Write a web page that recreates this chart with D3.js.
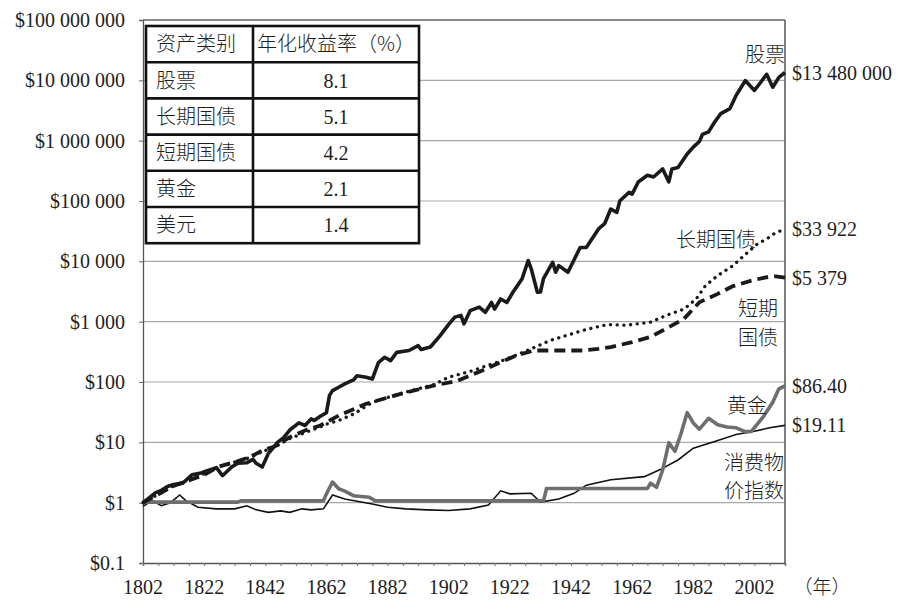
<!DOCTYPE html>
<html><head><meta charset="utf-8">
<script src="https://cdn.jsdelivr.net/npm/d3@7"></script>
<style>
html,body{margin:0;padding:0;background:#fff;}
text{font-family:"Liberation Serif","Noto Sans CJK SC",serif;fill:#1e1e1e;}
.cjk{font-family:"Noto Sans CJK SC","Liberation Serif",sans-serif;font-weight:300;}
</style></head>
<body>
<svg id="c" width="901" height="602"></svg>
<script>
// ---------- DATA ----------
const stocks = [[1802,1],[1804,1.2],[1806,1.45],[1808,1.6],[1810,1.85],[1812,2.0],[1815,2.1],[1818,2.9],[1821,3.1],[1823,3.4],[1826,3.8],[1828,2.8],[1831,3.9],[1833,4.5],[1836,4.6],[1838,5.2],[1839,4.5],[1841,3.9],[1843,6.5],[1846,10],[1848,12],[1850,16],[1853,21],[1855,19],[1857,24.5],[1858,23],[1860,27],[1862,31],[1863,60],[1864,72],[1866,82],[1868,93],[1871,110],[1872,127],[1875,120],[1877,112],[1879,210],[1881,257],[1883,226],[1885,310],[1889,333],[1892,400],[1893,345],[1896,380],[1899,570],[1902,900],[1904,1190],[1906,1270],[1907,920],[1909,1520],[1912,1740],[1914,1430],[1916,2080],[1917,1620],[1919,2380],[1921,2080],[1923,3070],[1926,5150],[1928,10300],[1929,7500],[1931,3070],[1932,3100],[1933,5150],[1936,9600],[1937,6600],[1938,8500],[1941,6600],[1945,17000],[1947,17000],[1951,34500],[1953,42000],[1955,73600],[1957,65000],[1958,101000],[1961,139000],[1962,130000],[1964,207000],[1967,267000],[1969,250000],[1972,340000],[1974,207000],[1975,340000],[1977,360000],[1980,600000],[1982,780000],[1984,970000],[1985,1270000],[1987,1400000],[1989,2040000],[1991,2800000],[1994,3400000],[1996,5600000],[1999,9900000],[2002,6800000],[2004,9200000],[2006,12600000],[2008,7700000],[2010,11200000],[2012,13480000]];
const longBonds = [[1802,1],[1812,1.9],[1822,3.0],[1827,4.0],[1832,4.7],[1837,5.6],[1841,7.0],[1845,8.3],[1850,11.5],[1855,14.5],[1860,18],[1862,20],[1866,23],[1871,29.6],[1877,46],[1886,64],[1897,90],[1902,120],[1910,155],[1913,176],[1921,240],[1929,355],[1935,485],[1941,600],[1946,720],[1954,900],[1960,870],[1968,980],[1973,1260],[1979,1620],[1983,2390],[1986,3970],[1990,5800],[1995,8500],[1998,11700],[2003,19500],[2006,23500],[2009,30000],[2012,33922]];
const shortBills = [[1802,1],[1812,1.9],[1822,2.9],[1827,4.0],[1832,4.7],[1837,5.7],[1841,7.3],[1845,8.5],[1850,12.2],[1855,15.7],[1860,19],[1866,27.7],[1875,43.5],[1886,63],[1897,87],[1905,105],[1913,155],[1924,275],[1930,333],[1946,333],[1951,355],[1955,380],[1962,457],[1968,560],[1973,760],[1979,1120],[1984,2100],[1990,2890],[1995,3880],[2001,4800],[2006,5450],[2009,5650],[2012,5379]];
const gold = [[1802,1.02],[1833,1.02],[1834,1.07],[1861,1.07],[1862,1.4],[1864,2.2],[1866,1.7],[1868,1.55],[1871,1.3],[1876,1.23],[1878,1.07],[1933,1.07],[1934,1.72],[1967,1.72],[1968,2.1],[1970,1.8],[1972,3.5],[1974,9.8],[1976,7.1],[1978,14],[1980,31],[1982,21],[1984,16.5],[1987,25],[1990,19.5],[1993,18],[1996,17.4],[1999,15],[2001,15.2],[2005,27],[2008,46],[2010,77],[2012,86.4]];
const cpi = [[1802,0.87],[1805,1.08],[1808,0.89],[1811,1.0],[1814,1.34],[1816,1.08],[1820,0.84],[1826,0.79],[1832,0.79],[1836,0.89],[1839,0.76],[1843,0.69],[1847,0.73],[1850,0.69],[1854,0.79],[1857,0.76],[1861,0.79],[1864,1.34],[1868,1.15],[1877,0.95],[1882,0.84],[1888,0.79],[1895,0.76],[1902,0.74],[1909,0.79],[1915,0.91],[1919,1.57],[1922,1.4],[1929,1.43],[1932,1.02],[1938,1.15],[1943,1.43],[1947,1.95],[1955,2.4],[1966,2.7],[1971,3.5],[1977,5.1],[1982,8.0],[1989,10.3],[1996,13.5],[2002,15.3],[2007,17.4],[2012,19.11]];

const yTickValues = [0.1,1,10,100,1000,10000,100000,1000000,10000000,100000000];
const yTickLabels = ["$0.1","$1","$10","$100","$1 000","$10 000","$100 000","$1 000 000","$10 000 000","$100 000 000"];
const xTickLabels = [1802,1822,1842,1862,1882,1902,1922,1942,1962,1982,2002];
const tableHeader = ["资产类别","年化收益率（%）"];
const tableAssets = ["股票","长期国债","短期国债","黄金","美元"];
const tableReturns = ["8.1","5.1","4.2","2.1","1.4"];
const endLabels = ["$13 480 000","$33 922","$5 379","$86.40","$19.11"];

// ---------- CHART ----------
const svg = d3.select("#c");
const L=143, R=785, T=20, B=563;
const x = d3.scaleLinear().domain([1802,2012]).range([L,R]);
const y = d3.scaleLog().domain([0.1,1e8]).range([B,T]);

// gridlines
svg.append("g").selectAll("line").data(yTickValues.filter(v=>v>0.1&&v<1e8)).join("line")
  .attr("x1",L).attr("x2",R).attr("y1",d=>y(d)).attr("y2",d=>y(d))
  .attr("stroke","#a8a8a8").attr("stroke-width",1.2);

// y axis
const yAxis = d3.axisLeft(y).tickValues(yTickValues).tickSize(4).tickPadding(14)
  .tickFormat((d,i)=>yTickLabels[i]);
const gy = svg.append("g").attr("transform",`translate(${L},0)`).call(yAxis);
gy.select(".domain").attr("stroke","#555").attr("stroke-width",1.3);
gy.selectAll(".tick line").attr("stroke","#666");
gy.selectAll("text").style("font-family","Liberation Serif").style("font-size","20px").attr("fill","#1e1e1e");

// x axis
const minor = d3.range(1802,2013,5);
const xAxis = d3.axisBottom(x).tickValues(minor).tickSize(3).tickFormat("");
const gx = svg.append("g").attr("transform",`translate(0,${B})`).call(xAxis);
gx.select(".domain").attr("stroke","#555").attr("stroke-width",1.5);
gx.selectAll(".tick line").attr("stroke","#777");
svg.append("g").selectAll("text").data(xTickLabels).join("text")
  .attr("x",d=>x(d)).attr("y",B+31).attr("text-anchor","middle")
  .style("font-size","20px").text(d=>d);
svg.append("text").attr("x",822).attr("y",B+31).attr("text-anchor","middle")
  .attr("class","cjk").style("font-size","19px").text("（年）");

// frame top & right
svg.append("line").attr("x1",L).attr("x2",R).attr("y1",T).attr("y2",T).attr("stroke","#666").attr("stroke-width",1.5);
svg.append("line").attr("x1",R).attr("x2",R).attr("y1",T).attr("y2",B).attr("stroke","#555").attr("stroke-width",1.5);

const line = d3.line().x(d=>x(d[0])).y(d=>y(d[1]));
const plot = svg.append("g");
plot.append("path").datum(cpi).attr("d",line).attr("fill","none").attr("stroke","#111").attr("stroke-width",1.6);
plot.append("path").datum(gold).attr("d",line).attr("fill","none").attr("stroke","#6e6e6e").attr("stroke-width",3.6).attr("stroke-linejoin","round");
plot.append("path").datum(shortBills).attr("d",line).attr("fill","none").attr("stroke","#1a1a1a").attr("stroke-width",3.8).attr("stroke-dasharray","11,6");
plot.append("path").datum(longBonds).attr("d",line).attr("fill","none").attr("stroke","#1a1a1a").attr("stroke-width",3.3).attr("stroke-linecap","round").attr("stroke-dasharray","0.1,6.6");
plot.append("path").datum(stocks).attr("d",line).attr("fill","none").attr("stroke","#1a1a1a").attr("stroke-width",3.6).attr("stroke-linejoin","round");

// end value labels
const ends = [stocks, longBonds, shortBills, gold, cpi].map(s=>s[s.length-1][1]);
svg.append("g").selectAll("text").data(ends).join("text")
  .attr("x",R+7).attr("y",d=>y(d)).attr("dy","0.35em")
  .style("font-size","20px").text((d,i)=>endLabels[i]);

// series labels
const sl = [["股票",785,55,"end"],["长期国债",756,240,"end"],["短期",778,309,"end"],["国债",778,338,"end"],["黄金",767,406,"end"],["消费物",784,463,"end"],["价指数",784,491,"end"]];
svg.append("g").selectAll("text").data(sl).join("text").attr("class","cjk")
  .attr("x",d=>d[1]).attr("y",d=>d[2]).attr("dy","0.36em").attr("text-anchor",d=>d[3])
  .style("font-size","20px").text(d=>d[0]);

// table
const tx0=146, tx1=253, tx2=419, ty0=26, rh=36.2;
const tg = svg.append("g");
const nRows = tableAssets.length+1;
tg.append("rect").attr("x",tx0).attr("y",ty0).attr("width",tx2-tx0).attr("height",rh*nRows)
  .attr("fill","#fff").attr("stroke","#111").attr("stroke-width",2.6);
for(let i=1;i<nRows;i++){
  tg.append("line").attr("x1",tx0).attr("x2",tx2).attr("y1",ty0+rh*i).attr("y2",ty0+rh*i).attr("stroke","#111").attr("stroke-width",2.6);
}
tg.append("line").attr("x1",tx1).attr("x2",tx1).attr("y1",ty0).attr("y2",ty0+rh*nRows).attr("stroke","#111").attr("stroke-width",2.6);
const rows = [tableHeader].concat(tableAssets.map((a,i)=>[a,tableReturns[i]]));
rows.forEach((r,i)=>{
  const cy = ty0+rh*i+rh/2;
  tg.append("text").attr("class","cjk").attr("x",tx0+10).attr("y",cy).attr("dy","0.36em").style("font-size","20px").text(r[0]);
  tg.append("text").attr("class",i===0?"cjk":null).attr("x",(tx1+tx2)/2).attr("y",cy).attr("dy","0.36em")
    .attr("text-anchor","middle").style("font-size","20px").text(r[1]);
});
</script>
</body></html>
